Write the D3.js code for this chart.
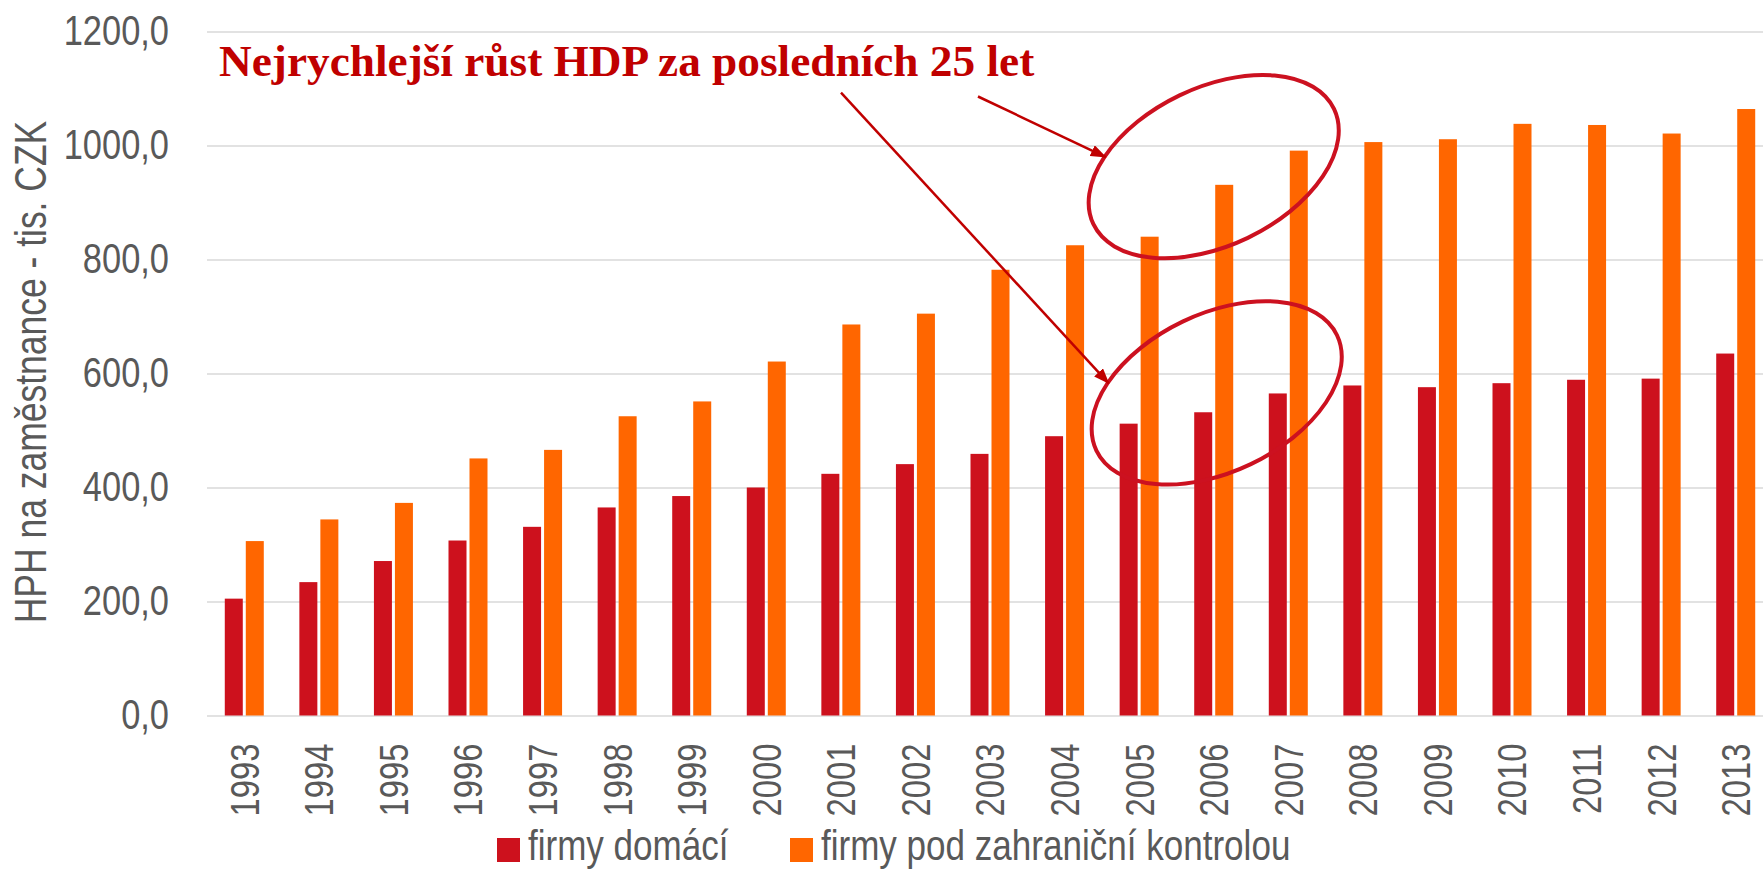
<!DOCTYPE html>
<html>
<head>
<meta charset="utf-8">
<script src="https://cdn.jsdelivr.net/npm/d3@7"></script>
<style>
  body { margin: 0; background: #fff; }
  svg text { font-family: "Liberation Sans", Arial, sans-serif; fill: #595959; }
</style>
</head>
<body>
<div id="chart"></div>
<script>
var years = ["1993", "1994", "1995", "1996", "1997", "1998", "1999", "2000", "2001", "2002", "2003",
             "2004", "2005", "2006", "2007", "2008", "2009", "2010", "2011", "2012", "2013"];
var domestic = [205, 234, 271, 307, 331, 365, 385, 400, 424, 441, 459, 490, 512, 532, 565, 579, 576, 583, 589, 591, 635];
var foreign = [306, 344, 373, 451, 466, 525, 551, 621, 686, 705, 782, 825, 840, 931, 991, 1006, 1011, 1038, 1036, 1021, 1064];
var seriesNames = ["firmy domácí", "firmy pod zahraniční kontrolou"];
var seriesColors = ["#CD111D", "#FF6600"];
var yTicks = [0, 200, 400, 600, 800, 1000, 1200];
var yTitle = "HPH na zaměstnance - tis. CZK";
var note = "Nejrychlejší růst HDP za posledních 25 let";
// circled spots: year + value at ellipse centre
var highlights = [{year: "2006", value: 963}, {year: "2006", value: 566, dx: 3}];

var width = 1763,
    height = 872,
    left = 207,
    right = 1773,
    narrow = 0.82;   // no Arial Narrow here, squeeze Liberation Sans instead

var cz = d3.formatLocale({decimal: ",", thousands: " ", grouping: [3], currency: ["", " Kč"]});
var fmt = cz.format(".1f");

var svg = d3.select("#chart").append("svg")
    .attr("width", width)
    .attr("height", height);

var defs = svg.append("defs");
defs.append("marker")
    .attr("id", "head")
    .attr("markerUnits", "userSpaceOnUse")
    .attr("viewBox", "0 0 16 12")
    .attr("refX", 15)
    .attr("refY", 6)
    .attr("markerWidth", 16)
    .attr("markerHeight", 12)
    .attr("orient", "auto")
  .append("path")
    .attr("d", "M0,0L16,6L0,12Z")
    .style("fill", "#C00000");

var y = d3.scaleLinear()
    .domain([0, 1200])
    .range([715.5, 31.5]);

var x0 = d3.scaleBand()
    .domain(years)
    .range([left, right])
    .paddingInner(0.477)
    .paddingOuter(0.2385);

var x1 = d3.scaleBand()
    .domain([0, 1])
    .range([0, x0.bandwidth()])
    .paddingInner(0.143);

// Grid + value labels
var yAxis = svg.append("g")
    .attr("transform", "translate(" + left + ",0)")
    .call(d3.axisLeft(y)
        .tickValues(yTicks)
        .tickSize(-(width - left))
        .tickPadding(38)
        .tickFormat(function(d) { return fmt(d); }));
yAxis.select(".domain").remove();
yAxis.selectAll("line")
    .style("stroke", "#D9D9D9")
    .style("stroke-width", 1.6);
yAxis.selectAll("text")
    .attr("x", -38 / narrow)
    .attr("transform", "scale(" + narrow + ",1)")
    .style("font-size", "42px");

svg.append("text")
    .attr("transform", "translate(46,372) rotate(-90) scale(0.806,1)")
    .attr("text-anchor", "middle")
    .style("font-size", "44px")
    .text(yTitle);

// Years
var xAxis = svg.append("g")
    .attr("transform", "translate(0," + y(0) + ")")
    .call(d3.axisBottom(x0).tickSize(0).tickPadding(0));
xAxis.select(".domain").remove();
xAxis.selectAll("text")
    .attr("transform", "rotate(-90) scale(" + narrow + ",1)")
    .attr("x", -28 / narrow)
    .attr("y", 0)
    .attr("dy", "0.36em")
    .style("text-anchor", "end")
    .style("font-size", "40px");

// Bars
var rows = years.map(function(yr, i) { return {year: yr, values: [domestic[i], foreign[i]]}; });

var group = svg.append("g").selectAll("g")
    .data(rows)
  .enter().append("g")
    .attr("transform", function(d) { return "translate(" + x0(d.year) + ",0)"; });

group.selectAll("rect")
    .data(function(d) { return d.values.map(function(v, k) { return {k: k, v: v}; }); })
  .enter().append("rect")
    .attr("x", function(d) { return x1(d.k); })
    .attr("width", x1.bandwidth())
    .attr("y", function(d) { return y(d.v); })
    .attr("height", function(d) { return y(0) - y(d.v); })
    .style("fill", function(d) { return seriesColors[d.k]; });

// Legend
var legendX = [497, 790],
    legendSqueeze = 0.815;
var legend = svg.append("g").selectAll("g")
    .data(seriesNames)
  .enter().append("g")
    .attr("transform", function(d, i) { return "translate(" + legendX[i] + ",838)"; });

legend.append("rect")
    .attr("width", 23)
    .attr("height", 24)
    .style("fill", function(d, i) { return seriesColors[i]; });

legend.append("text")
    .attr("x", 31 / legendSqueeze)
    .attr("y", 22)
    .attr("transform", "scale(" + legendSqueeze + ",1)")
    .style("font-size", "43px")
    .text(function(d) { return d; });

// Annotation
svg.append("text")
    .attr("x", 219)
    .attr("y", 76)
    .style("font-family", "'Liberation Serif', 'Times New Roman', serif")
    .style("font-weight", "bold")
    .style("font-size", "45.3px")
    .style("fill", "#C00000")
    .text(note);

var arrowStarts = [[978, 96.5], [841, 92.7]];

highlights.forEach(function(h, i) {
  var cx = x0(h.year) + x0.bandwidth() / 2 + (h.dx || 0),
      cy = y(h.value);

  svg.append("ellipse")
      .attr("transform", "translate(" + cx + "," + cy + ") rotate(-25.6)")
      .attr("rx", 133.4)
      .attr("ry", 79)
      .style("fill", "none")
      .style("stroke", "#CC1120")
      .style("stroke-width", 4);

  svg.append("line")
      .attr("x1", arrowStarts[i][0])
      .attr("y1", arrowStarts[i][1])
      .attr("x2", cx - 108)
      .attr("y2", cy - 9.5)
      .attr("marker-end", "url(#head)")
      .style("stroke", "#C00000")
      .style("stroke-width", 2.5);
});
</script>
</body>
</html>
